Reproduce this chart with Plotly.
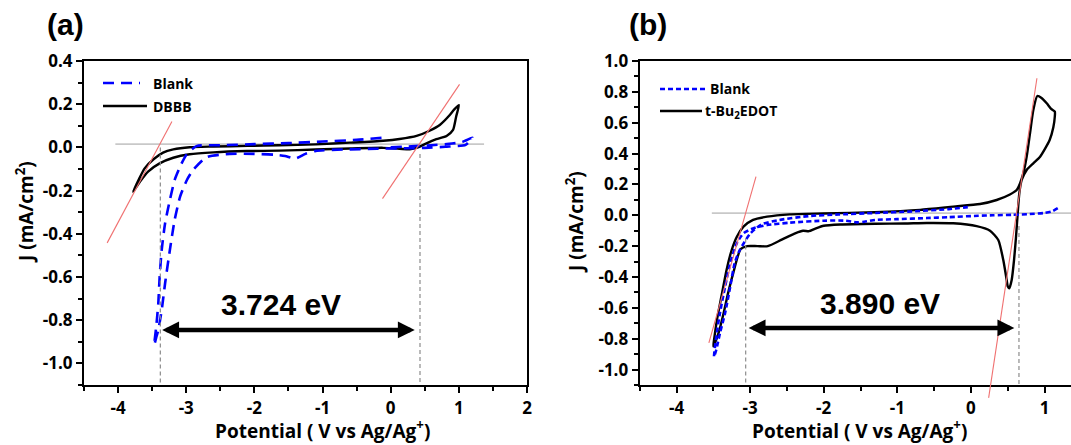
import plotly.graph_objects as go

W, H = 1071, 445

# ---------------- data ----------------
# panel (a): DBBB CV loop
a_dbbb_x = [-3.78, -3.68, -3.56, -3.39, -3.19, -2.95, -2.60, -2.11, -1.63, -1.10, -0.60, -0.11, 0.13, 0.28,
            0.40, 0.525, 0.67, 0.82, 0.915, 0.96, 1.00, 0.93, 0.867, 0.72, 0.57, 0.38, 0.13, -0.11, -0.60,
            -1.10, -1.63, -2.10, -2.60, -2.95, -3.19, -3.34, -3.48, -3.61, -3.70, -3.78]
a_dbbb_y = [-0.205, -0.159, -0.112, -0.074, -0.048, -0.032, -0.023, -0.017, -0.015, -0.010, -0.005, -0.002,
            -0.006, -0.009, 0.000, 0.019, 0.038, 0.053, 0.081, 0.142, 0.196, 0.175, 0.150, 0.104, 0.077, 0.053,
            0.039, 0.031, 0.022, 0.014, 0.010, 0.007, 0.004, 0.001, -0.009, -0.024, -0.055, -0.097, -0.151, -0.205]
# panel (a): blank
a_blank_x = [0.00, 0.30, 0.60, 0.90, 1.05, 1.20, 1.10, 0.80, 0.50, 0.20, -0.20, -0.70, -1.10, -1.25, -1.40,
             -1.55, -1.70, -2.00, -2.36, -2.70, -2.90, -2.99, -3.09, -3.17, -3.24, -3.31, -3.36, -3.41, -3.44,
             -3.47, -3.44, -3.41, -3.39, -3.36, -3.31, -3.24, -3.17, -3.09, -3.00, -2.85, -2.50, -2.00, -1.50,
             -1.00, -0.50, -0.10]
a_blank_y = [0.000, 0.005, 0.010, 0.018, 0.025, 0.045, 0.012, 0.003, -0.002, -0.004, -0.006, -0.010, -0.016,
             -0.030, -0.052, -0.040, -0.034, -0.030, -0.030, -0.045, -0.105, -0.151, -0.228, -0.336, -0.475,
             -0.629, -0.753, -0.845, -0.880, -0.915, -0.830, -0.722, -0.599, -0.475, -0.351, -0.244, -0.151,
             -0.089, -0.035, 0.006, 0.010, 0.015, 0.020, 0.027, 0.035, 0.045]

# panel (b): t-Bu2EDOT CV loop
b_edot_x = [-3.50, -3.49, -3.45, -3.39, -3.32, -3.25, -3.18, -3.09, -2.96, -2.77, -2.46, -2.00, -1.31, -0.69,
            -0.24, 0.124, 0.35, 0.53, 0.622, 0.667, 0.712, 0.758, 0.803, 0.848, 0.902, 0.96, 1.03, 1.09, 1.14,
            1.14, 1.12, 1.07, 0.94, 0.848, 0.758, 0.69, 0.658, 0.636, 0.613, 0.586, 0.554, 0.522, 0.50, 0.486,
            0.44, 0.372, 0.26, 0.078, -0.24, -0.60, -0.90, -1.30, -1.77, -2.00, -2.12, -2.20, -2.28, -2.38,
            -2.57, -2.76, -2.90, -3.04, -3.13, -3.23, -3.30, -3.36, -3.43, -3.50]
b_edot_y = [-0.85, -0.808, -0.678, -0.527, -0.354, -0.225, -0.139, -0.074, -0.030, -0.009, 0.006, 0.012, 0.020,
            0.035, 0.056, 0.073, 0.099, 0.135, 0.164, 0.207, 0.272, 0.380, 0.531, 0.682, 0.773, 0.760, 0.726,
            0.690, 0.672, 0.640, 0.570, 0.488, 0.380, 0.337, 0.294, 0.229, 0.143, 0.013, -0.139, -0.290, -0.419,
            -0.473, -0.460, -0.419, -0.290, -0.160, -0.100, -0.070, -0.052, -0.050, -0.053, -0.055, -0.060,
            -0.068, -0.088, -0.103, -0.100, -0.115, -0.158, -0.200, -0.200, -0.200, -0.220, -0.376, -0.506,
            -0.635, -0.765, -0.85]
# panel (b): blank
b_blank_x = [1.18, 1.10, 1.00, 0.80, 0.57, 0.30, 0.10, -0.30, -0.60, -1.00, -1.30, -1.45, -1.55, -1.70, -2.00,
             -2.46, -2.77, -2.96, -3.09, -3.18, -3.27, -3.34, -3.41, -3.46, -3.49, -3.46, -3.41, -3.34, -3.27,
             -3.21, -3.14, -3.00, -2.85, -2.60, -2.20, -1.80, -1.30, -0.80, -0.30, 0.00]
b_blank_y = [0.046, 0.025, 0.015, 0.008, 0.003, 0.000, -0.003, -0.012, -0.018, -0.025, -0.030, -0.042, -0.046,
             -0.035, -0.035, -0.048, -0.063, -0.085, -0.117, -0.180, -0.311, -0.463, -0.635, -0.787, -0.916,
             -0.873, -0.765, -0.635, -0.463, -0.311, -0.225, -0.120, -0.060, -0.030, -0.005, 0.005, 0.015,
             0.025, 0.040, 0.055]

# onset construction (tangent lines, baseline, onset potentials, band gap)
a_tan1_x, a_tan1_y = [-4.16, -3.21], [-0.442, 0.12]
a_tan2_x, a_tan2_y = [-0.12, 1.01], [-0.237, 0.292]
b_tan1_x, b_tan1_y = [-3.56, -2.92], [-0.827, 0.251]
b_tan2_x, b_tan2_y = [0.241, 0.897], [-1.183, 0.888]
a_base_x, a_base_y = [-4.04, 1.37], 0.015
b_base_x, b_base_y = [-3.52, 1.40], 0.014
a_onset_x, a_onset_top = [-3.38, 0.43], [0.0, -0.03]
b_onset_x, b_onset_top = [-3.06, 0.653], [-0.15, -0.07]
a_gap_text, a_arrow_x, a_arrow_y, a_text_xy = "3.724 eV", [-3.375, 0.353], -0.845, (-1.61, -0.725)
b_gap_text, b_arrow_x, b_arrow_y, b_text_xy = "3.890 eV", [-3.04, 0.59], -0.73, (-1.24, -0.573)

x_tickvals = [-4, -3, -2, -1, 0, 1, 2]
x_ticktext = ["-4", "-3", "-2", "-1", "0", "1", "2"]
a_ytickvals = [0.4, 0.2, 0.0, -0.2, -0.4, -0.6, -0.8, -1.0]
a_yticktext = ["0.4", "0.2", "0.0", "-0.2", "-0.4", "-0.6", "-0.8", "-1.0"]
b_ytickvals = [1.0, 0.8, 0.6, 0.4, 0.2, 0.0, -0.2, -0.4, -0.6, -0.8, -1.0]
b_yticktext = ["1.0", "0.8", "0.6", "0.4", "0.2", "0.0", "-0.2", "-0.4", "-0.6", "-0.8", "-1.0"]

a_xrange, a_yrange = [-4.5, 2.0], [-1.1, 0.4]
b_xrange, b_yrange = [-4.5, 1.36], [-1.1, 1.0]

# ---------------- layout geometry ----------------
def px(xp):
    return xp / W

def py(yp):
    return 1 - yp / H

a_dom_x = [px(84), px(527)]
b_dom_x = [px(639.7), 1.0]
dom_y = [py(385), py(61)]

BLUE = "#0000FF"
RED = "#F07070"
GRAY = "#C8C8C8"
DGRAY = "#8C8C8C"
TICKFONT = dict(family="Open Sans", size=17, color="black", weight=700)
LABFONT = dict(family="Open Sans", size=19, color="black", weight=700)
LEGFONT = dict(family="Open Sans", size=14, color="black", weight=700)

fig = go.Figure()

# curves
fig.add_trace(go.Scatter(x=a_dbbb_x, y=a_dbbb_y, mode="lines", line=dict(color="black", width=2.4, shape="spline", smoothing=0.6),
                         xaxis="x", yaxis="y", showlegend=False))
fig.add_trace(go.Scatter(x=a_blank_x, y=a_blank_y, mode="lines", line=dict(color=BLUE, width=2.6, dash="11px,7px", shape="spline", smoothing=0.6),
                         xaxis="x", yaxis="y", showlegend=False))
fig.add_trace(go.Scatter(x=b_edot_x, y=b_edot_y, mode="lines", line=dict(color="black", width=2.4, shape="spline", smoothing=0.6),
                         xaxis="x2", yaxis="y2", showlegend=False))
fig.add_trace(go.Scatter(x=b_blank_x, y=b_blank_y, mode="lines", line=dict(color=BLUE, width=2.6, dash="5px,3px", shape="spline", smoothing=0.6),
                         xaxis="x2", yaxis="y2", showlegend=False))

shapes = []
annotations = []


def to_paper_y(y, yr):
    return dom_y[0] + (y - yr[0]) / (yr[1] - yr[0]) * (dom_y[1] - dom_y[0])


for xr, yr, xa, ya, base_x, base_y, tans, onx, ontop in [
    ("x", "y", a_xrange, a_yrange, a_base_x, a_base_y, [(a_tan1_x, a_tan1_y), (a_tan2_x, a_tan2_y)], a_onset_x, a_onset_top),
    ("x2", "y2", b_xrange, b_yrange, b_base_x, b_base_y, [(b_tan1_x, b_tan1_y), (b_tan2_x, b_tan2_y)], b_onset_x, b_onset_top),
]:
    shapes.append(dict(type="line", xref=xr, yref=yr, x0=base_x[0], x1=base_x[1], y0=base_y, y1=base_y,
                       line=dict(color=GRAY, width=1.6), layer="below"))
    for tx, ty in tans:
        shapes.append(dict(type="line", xref=xr, yref="paper", x0=tx[0], x1=tx[1],
                           y0=to_paper_y(ty[0], ya), y1=to_paper_y(ty[1], ya),
                           line=dict(color=RED, width=1.1), layer="above"))
    for ox, ot in zip(onx, ontop):
        shapes.append(dict(type="line", xref=xr, yref=yr, x0=ox, x1=ox, y0=ot, y1=ya[0],
                           line=dict(color=DGRAY, width=1.2, dash="4px,3px"), layer="above"))

# band-gap arrows and labels
for xr, yr, ax_x, ay_y, txt, txy in [("x", "y", a_arrow_x, a_arrow_y, a_gap_text, a_text_xy),
                                     ("x2", "y2", b_arrow_x, b_arrow_y, b_gap_text, b_text_xy)]:
    annotations.append(dict(xref=xr, yref=yr, x=ax_x[1], y=ay_y, axref=xr, ayref=yr, ax=ax_x[0], ay=ay_y,
                            text="", showarrow=True, arrowhead=2, startarrowhead=2, arrowside="end+start",
                            arrowsize=0.75, startarrowsize=0.75, arrowwidth=4.5, arrowcolor="black",
                            standoff=0, startstandoff=0))
    annotations.append(dict(xref=xr, yref=yr, x=txy[0], y=txy[1], text=txt, showarrow=False,
                            font=dict(family="Liberation Sans, Arial", size=30, color="black", weight=700),
                            xanchor="center", yanchor="middle"))

# panel labels
for lx, lab in ((45, "(a)"), (627, "(b)")):
    annotations.append(dict(xref="paper", yref="paper", x=px(lx), y=py(24), text=lab, showarrow=False,
                            xanchor="left", yanchor="middle",
                            font=dict(family="Liberation Sans, Arial", size=30, color="black", weight=700)))

# axis titles
for cx in (322, 859):
    annotations.append(dict(xref="paper", yref="paper", x=px(cx), y=py(430), text="Potential ( V vs Ag/Ag<sup>+</sup>)",
                            showarrow=False, xanchor="center", yanchor="middle", font=LABFONT))
for cx, cy in ((25, 212), (575, 222)):
    annotations.append(dict(xref="paper", yref="paper", x=px(cx), y=py(cy), text="J (mA/cm<sup>2</sup>)",
                            textangle=-90, showarrow=False, xanchor="center", yanchor="middle", font=LABFONT))

# manual legends
legend_items = [
    (103, 140, 83, BLUE, "11px,7px", 151, "Blank"),
    (103, 147, 106, "black", "solid", 151, "DBBB"),
    (660, 706, 89, BLUE, "5px,3px", 708, "Blank"),
    (660, 702, 111, "black", "solid", 703, "t-Bu<sub>2</sub>EDOT"),
]
for x0, x1, yy, col, dsh, tx, lab in legend_items:
    shapes.append(dict(type="line", xref="paper", yref="paper", x0=px(x0), x1=px(x1), y0=py(yy), y1=py(yy),
                       line=dict(color=col, width=2.5, dash=dsh)))
    annotations.append(dict(xref="paper", yref="paper", x=px(tx), y=py(yy), text=lab, showarrow=False,
                            xanchor="left", yanchor="middle", font=LEGFONT))


def xaxis_style(dom, rng, anchor):
    return dict(domain=dom, range=rng, anchor=anchor, showline=True, linecolor="black", linewidth=2.2,
                mirror=True, ticks="outside", ticklen=6, tickwidth=2, tickcolor="black", automargin=False,
                tickvals=x_tickvals, ticktext=x_ticktext, tickfont=TICKFONT, showgrid=False, zeroline=False,
                minor=dict(ticks="outside", ticklen=3.5, tickwidth=2, tickcolor="black", dtick=0.5, tick0=0,
                           showgrid=False))


def yaxis_style(rng, anchor, tv, tt):
    return dict(domain=dom_y, range=rng, anchor=anchor, showline=True, linecolor="black", linewidth=2.2,
                mirror=True, ticks="outside", ticklen=6, tickwidth=2, tickcolor="black", automargin=False,
                tickvals=tv, ticktext=tt, tickfont=TICKFONT, showgrid=False, zeroline=False,
                minor=dict(ticks="outside", ticklen=3.5, tickwidth=2, tickcolor="black", dtick=0.1, tick0=0,
                           showgrid=False))


fig.update_layout(
    template="none",
    width=W, height=H, margin=dict(l=0, r=0, t=0, b=0, autoexpand=False),
    font=dict(family="Open Sans", size=17, color="black", weight=700),
    paper_bgcolor="white", plot_bgcolor="white", showlegend=False,
    xaxis=xaxis_style(a_dom_x, a_xrange, "y"),
    yaxis=yaxis_style(a_yrange, "x", a_ytickvals, a_yticktext),
    xaxis2=xaxis_style(b_dom_x, b_xrange, "y2"),
    yaxis2=yaxis_style(b_yrange, "x2", b_ytickvals, b_yticktext),
    shapes=shapes, annotations=annotations,
)

fig.write_html("out.html")
